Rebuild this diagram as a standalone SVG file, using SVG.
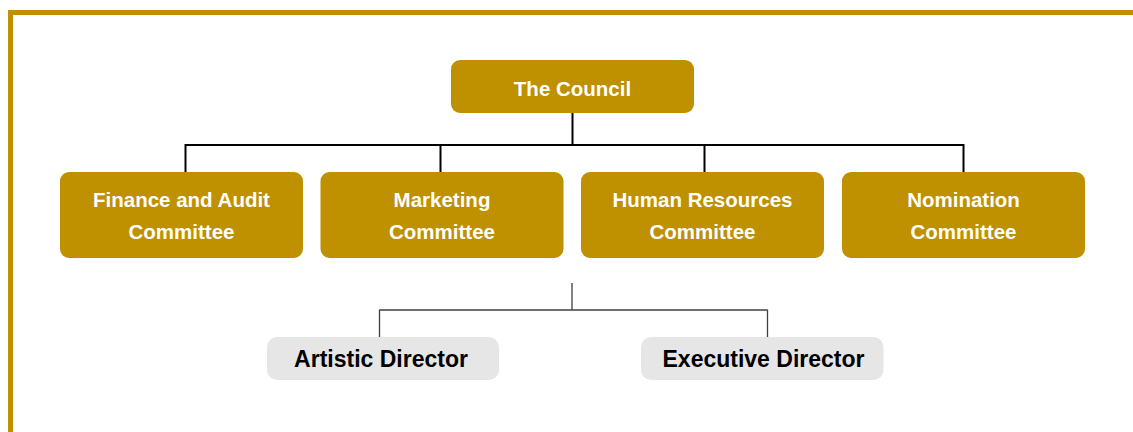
<svg xmlns="http://www.w3.org/2000/svg" width="1133" height="432" viewBox="0 0 1133 432">
<style>
.gold{fill:#BF9000}
.grey{fill:#E6E6E6}
.wt{font-family:"Liberation Sans",Arial,sans-serif;font-weight:bold;font-size:20.5px;fill:#FFFFFF;text-anchor:middle}
.bt{font-family:"Liberation Sans",Arial,sans-serif;font-weight:bold;font-size:23px;fill:#000000;text-anchor:middle}
.c1{fill:none;stroke:#000000;stroke-width:2}
.c2{fill:none;stroke:#404040;stroke-width:1.3}
</style>
<rect width="1133" height="432" fill="#FFFFFF"/>
<path d="M10.5,432 V12.5 H1133" fill="none" stroke="#BF9000" stroke-width="5"/>
<g id="connectors">
<path class="c1" d="M572.5,113 V145 M185,145 H964 M185.5,144 V172 M440.5,144 V172 M704.5,144 V172 M963.5,144 V172"/>
<path class="c2" d="M572,283 V310 M379.5,310 H767.5 M379.5,309.5 V337 M767.5,309.5 V337"/>
</g>
<g id="council"><rect class="gold" x="451" y="60" width="243" height="53" rx="9"/><text class="wt" x="572.5" y="95.7">The Council</text></g>
<g id="finance"><rect class="gold" x="60" y="172" width="243" height="86" rx="9"/><text class="wt" x="181.5" y="207.3">Finance and Audit</text><text class="wt" x="181.5" y="239">Committee</text></g>
<g id="marketing"><rect class="gold" x="320.5" y="172" width="243" height="86" rx="9"/><text class="wt" x="442" y="207.3">Marketing</text><text class="wt" x="442" y="239">Committee</text></g>
<g id="hr"><rect class="gold" x="581" y="172" width="243" height="86" rx="9"/><text class="wt" x="702.5" y="207.3">Human Resources</text><text class="wt" x="702.5" y="239">Committee</text></g>
<g id="nomination"><rect class="gold" x="842" y="172" width="243" height="86" rx="9"/><text class="wt" x="963.5" y="207.3">Nomination</text><text class="wt" x="963.5" y="239">Committee</text></g>
<g id="artistic"><rect class="grey" x="267" y="337" width="232" height="43" rx="10"/><text class="bt" x="381" y="366.7">Artistic Director</text></g>
<g id="executive"><rect class="grey" x="641" y="337" width="242.5" height="43" rx="10"/><text class="bt" x="763.5" y="366.7">Executive Director</text></g>
</svg>
